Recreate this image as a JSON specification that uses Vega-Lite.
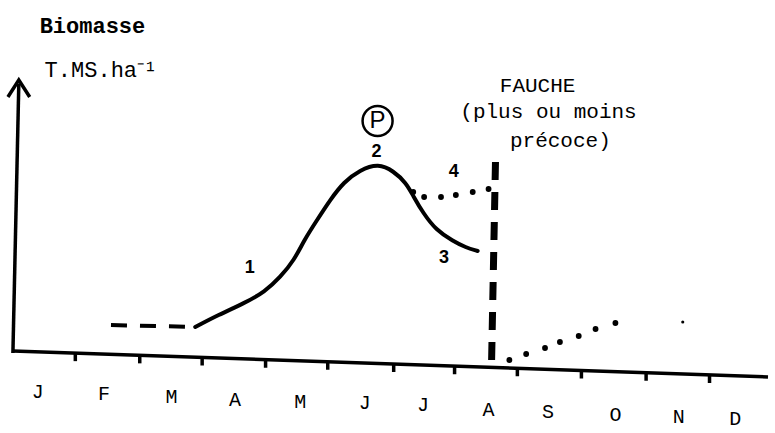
{
  "$schema": "https://vega.github.io/schema/vega-lite/v6.json",
  "width": 775,
  "height": 433,
  "autosize": {"type": "fit", "contains": "padding"},
  "padding": 0,
  "background": "white",
  "config": {"view": {"stroke": null}},
  "datasets": {
    "lignes": [
      {"serie": "axe_x", "i": 0, "mois": 0.016, "biomasse": 0},
      {"serie": "axe_x", "i": 1, "mois": 11.922, "biomasse": -1.04},
      {"serie": "axe_y", "i": 0, "mois": 0.016, "biomasse": -0.08},
      {"serie": "axe_y", "i": 1, "mois": 0.109, "biomasse": 10.68},
      {"serie": "fleche", "i": 0, "mois": -0.0625, "biomasse": 10.16},
      {"serie": "fleche", "i": 1, "mois": 0.109, "biomasse": 10.84},
      {"serie": "fleche", "i": 2, "mois": 0.281, "biomasse": 10.16},
      {"serie": "debut", "i": 0, "mois": 1.5625, "biomasse": 1.04},
      {"serie": "debut", "i": 1, "mois": 2.734, "biomasse": 0.97},
      {"serie": "courbe", "i": 0, "mois": 2.891, "biomasse": 0.96},
      {"serie": "courbe", "i": 1, "mois": 3.25, "biomasse": 1.44},
      {"serie": "courbe", "i": 2, "mois": 3.672, "biomasse": 1.92},
      {"serie": "courbe", "i": 3, "mois": 3.984, "biomasse": 2.36},
      {"serie": "courbe", "i": 4, "mois": 4.234, "biomasse": 2.96},
      {"serie": "courbe", "i": 5, "mois": 4.453, "biomasse": 3.64},
      {"serie": "courbe", "i": 6, "mois": 4.609, "biomasse": 4.44},
      {"serie": "courbe", "i": 7, "mois": 4.8125, "biomasse": 5.24},
      {"serie": "courbe", "i": 8, "mois": 5.016, "biomasse": 6.04},
      {"serie": "courbe", "i": 9, "mois": 5.234, "biomasse": 6.76},
      {"serie": "courbe", "i": 10, "mois": 5.484, "biomasse": 7.24},
      {"serie": "courbe", "i": 11, "mois": 5.781, "biomasse": 7.5},
      {"serie": "courbe", "i": 12, "mois": 6.016, "biomasse": 7.2},
      {"serie": "courbe", "i": 13, "mois": 6.219, "biomasse": 6.72},
      {"serie": "courbe", "i": 14, "mois": 6.328, "biomasse": 6.2},
      {"serie": "courbe", "i": 15, "mois": 6.484, "biomasse": 5.52},
      {"serie": "courbe", "i": 16, "mois": 6.6875, "biomasse": 4.84},
      {"serie": "courbe", "i": 17, "mois": 6.953, "biomasse": 4.4},
      {"serie": "courbe", "i": 18, "mois": 7.156, "biomasse": 4.14},
      {"serie": "courbe", "i": 19, "mois": 7.344, "biomasse": 4.0},
      {"serie": "fauche", "i": 0, "mois": 7.625, "biomasse": 7.56},
      {"serie": "fauche", "i": 1, "mois": 7.5625, "biomasse": -0.56}
    ],
    "points": [
      {"serie": "4", "mois": 6.328, "biomasse": 6.36},
      {"serie": "4", "mois": 6.5, "biomasse": 6.16},
      {"serie": "4", "mois": 6.766, "biomasse": 6.16},
      {"serie": "4", "mois": 7.0, "biomasse": 6.24},
      {"serie": "4", "mois": 7.266, "biomasse": 6.36},
      {"serie": "4", "mois": 7.516, "biomasse": 6.48},
      {"serie": "repousse", "mois": 7.844, "biomasse": -0.36},
      {"serie": "repousse", "mois": 8.109, "biomasse": -0.12},
      {"serie": "repousse", "mois": 8.406, "biomasse": 0.12},
      {"serie": "repousse", "mois": 8.641, "biomasse": 0.36},
      {"serie": "repousse", "mois": 8.9375, "biomasse": 0.6},
      {"serie": "repousse", "mois": 9.203, "biomasse": 0.88},
      {"serie": "repousse", "mois": 9.516, "biomasse": 1.12}
    ],
    "trace": [
      {"mois": 10.578, "biomasse": 1.16}
    ],
    "graduations": [
      {"mois": 1.0, "haut": -0.086, "bas": -0.406},
      {"mois": 2.016, "haut": -0.174, "bas": -0.494},
      {"mois": 3.0, "haut": -0.26, "bas": -0.58},
      {"mois": 4.0, "haut": -0.35, "bas": -0.67},
      {"mois": 4.98, "haut": -0.43, "bas": -0.75},
      {"mois": 6.02, "haut": -0.52, "bas": -0.84},
      {"mois": 6.98, "haut": -0.61, "bas": -0.93},
      {"mois": 7.97, "haut": -0.69, "bas": -1.01},
      {"mois": 8.98, "haut": -0.78, "bas": -1.1},
      {"mois": 10.0, "haut": -0.87, "bas": -1.19},
      {"mois": 11.0, "haut": -0.96, "bas": -1.28}
    ],
    "mois_labels": [
      {"label": "J", "mois": 0.406, "biomasse": -1.64},
      {"label": "F", "mois": 1.453, "biomasse": -1.72},
      {"label": "M", "mois": 2.516, "biomasse": -1.84},
      {"label": "A", "mois": 3.516, "biomasse": -1.96},
      {"label": "M", "mois": 4.547, "biomasse": -2.04},
      {"label": "J", "mois": 5.5625, "biomasse": -2.08},
      {"label": "J", "mois": 6.484, "biomasse": -2.16},
      {"label": "A", "mois": 7.516, "biomasse": -2.36},
      {"label": "S", "mois": 8.453, "biomasse": -2.44},
      {"label": "O", "mois": 9.516, "biomasse": -2.56},
      {"label": "N", "mois": 10.516, "biomasse": -2.64},
      {"label": "D", "mois": 11.406, "biomasse": -2.72}
    ],
    "textes": [
      {"texte": "FAUCHE", "mois": 8.289, "biomasse": 10.6},
      {"texte": "(plus ou moins", "mois": 8.461, "biomasse": 9.56},
      {"texte": "précoce)", "mois": 8.648, "biomasse": 8.4}
    ],
    "chiffres": [
      {"texte": "1", "mois": 3.75, "biomasse": 3.32},
      {"texte": "2", "mois": 5.75, "biomasse": 7.96},
      {"texte": "3", "mois": 6.8125, "biomasse": 3.72},
      {"texte": "4", "mois": 6.969, "biomasse": 7.16}
    ],
    "pic": [
      {"texte": "P", "mois": 5.766, "biomasse": 9.2}
    ]
  },
  "encoding": {
    "x": {"field": "mois", "type": "quantitative", "axis": null, "scale": {"domain": [-0.1875, 11.922], "nice": false, "zero": false}},
    "y": {"field": "biomasse", "type": "quantitative", "axis": null, "scale": {"domain": [-3.28, 14.04], "nice": false, "zero": false}}
  },
  "layer": [
    {
      "data": {"name": "lignes"},
      "transform": [{"filter": "indexof(['axe_x','axe_y','fleche'], datum.serie) >= 0"}],
      "mark": {"type": "line", "color": "black", "strokeWidth": 3.5, "strokeCap": "butt", "strokeJoin": "miter"},
      "encoding": {"detail": {"field": "serie"}, "order": {"field": "i"}}
    },
    {
      "data": {"name": "graduations"},
      "mark": {"type": "rule", "color": "black", "strokeWidth": 3.5},
      "encoding": {
        "y": {"field": "haut", "type": "quantitative"},
        "y2": {"field": "bas"}
      }
    },
    {
      "data": {"name": "lignes"},
      "transform": [{"filter": "datum.serie == 'debut'"}],
      "mark": {"type": "line", "color": "black", "strokeWidth": 4, "strokeDash": [16, 13]},
      "encoding": {"order": {"field": "i"}}
    },
    {
      "data": {"name": "lignes"},
      "transform": [{"filter": "datum.serie == 'courbe'"}],
      "mark": {"type": "line", "color": "black", "strokeWidth": 4, "interpolate": "basis", "strokeCap": "round"},
      "encoding": {"order": {"field": "i"}}
    },
    {
      "data": {"name": "lignes"},
      "transform": [{"filter": "datum.serie == 'fauche'"}],
      "mark": {"type": "line", "color": "black", "strokeWidth": 7, "strokeDash": [18, 12], "strokeCap": "butt"},
      "encoding": {"order": {"field": "i"}}
    },
    {
      "data": {"name": "points"},
      "mark": {"type": "point", "filled": true, "shape": "circle", "color": "black", "size": 34, "opacity": 1}
    },
    {
      "data": {"name": "trace"},
      "mark": {"type": "point", "filled": true, "shape": "circle", "color": "black", "size": 10, "opacity": 1}
    },
    {
      "data": {"name": "pic"},
      "mark": {"type": "point", "filled": false, "shape": "circle", "color": "black", "size": 900, "strokeWidth": 2.5, "opacity": 1}
    },
    {
      "data": {"name": "pic"},
      "mark": {"type": "text", "font": "Liberation Sans", "fontSize": 24, "color": "black", "align": "center", "baseline": "middle"},
      "encoding": {"text": {"field": "texte"}}
    },
    {
      "data": {"name": "chiffres"},
      "mark": {"type": "text", "font": "Liberation Sans", "fontSize": 18, "fontWeight": "bold", "color": "black", "align": "center", "baseline": "middle"},
      "encoding": {"text": {"field": "texte"}}
    },
    {
      "data": {"name": "mois_labels"},
      "mark": {"type": "text", "font": "Liberation Mono", "fontSize": 20, "color": "black", "align": "center", "baseline": "middle"},
      "encoding": {"text": {"field": "label"}}
    },
    {
      "data": {"name": "textes"},
      "mark": {"type": "text", "font": "Liberation Mono", "fontSize": 21, "color": "black", "align": "center", "baseline": "middle"},
      "encoding": {"text": {"field": "texte"}}
    },
    {
      "data": {"values": [{"texte": "Biomasse", "mois": 0.4375, "biomasse": 13.0}]},
      "mark": {"type": "text", "font": "Liberation Mono", "fontSize": 22, "fontWeight": "bold", "color": "black", "align": "left", "baseline": "middle"},
      "encoding": {"text": {"field": "texte"}}
    },
    {
      "data": {"values": [{"texte": "T.MS.ha⁻¹", "mois": 0.516, "biomasse": 11.24}]},
      "mark": {"type": "text", "font": "Liberation Mono", "fontSize": 22, "color": "black", "align": "left", "baseline": "middle"},
      "encoding": {"text": {"field": "texte"}}
    }
  ]
}
